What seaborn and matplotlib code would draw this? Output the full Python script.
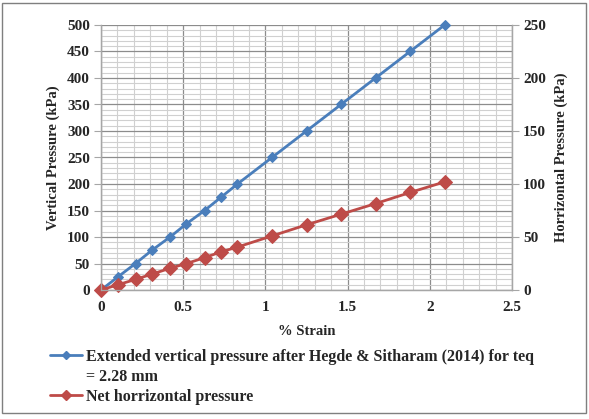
import numpy as np
import pandas as pd
import matplotlib
matplotlib.use("Agg")
import matplotlib.pyplot as plt
import seaborn as sns
from matplotlib.patches import Rectangle
from matplotlib.lines import Line2D

sns.set_style("white")
plt.rcParams['font.family'] = ['Liberation Serif', 'DejaVu Serif']
plt.rcParams['font.weight'] = 'bold'

# data
strain = [0, 0.104, 0.21, 0.31, 0.42, 0.52, 0.63, 0.73, 0.83, 1.04, 1.25, 1.46, 1.67, 1.88, 2.09]
vertical = [0, 25, 50, 75, 100, 125, 150, 175, 200, 250, 300, 350, 400, 450, 500]
horizontal = [0, 5, 10, 15, 20.5, 25, 30.5, 36, 40.5, 51, 61.5, 71.5, 81.5, 92, 102]

blue = '#4A7EBB'
red = '#BE4B48'
grid_c = '#A6A6A6'

df = pd.DataFrame({'strain': strain, 'vertical': vertical, 'horizontal': horizontal})

fig = plt.figure(figsize=(5.89, 4.19), dpi=100)
ax = fig.add_axes([101/589, 1-290/419, 411/589, 265/419])
ax2 = ax.twinx()

# grid first
ax.set_xlim(0, 2.5)
ax.set_ylim(0, 500)
ax.set_xticks(np.arange(0, 2.51, 0.5))
ax.set_xticks(np.arange(0, 2.51, 0.1), minor=True)
ax.set_yticks(np.arange(0, 501, 50))
ax.set_yticks(np.arange(0, 501, 10), minor=True)
ax.grid(which='major', color='#8C8C8C', lw=0.9)
ax.grid(which='minor', color='#D0D0D0', lw=0.8)
ax.set_axisbelow(True)

sns.lineplot(data=df, x='strain', y='vertical', ax=ax, color=blue, lw=2,
             marker='D', markersize=5, markeredgecolor=blue, legend=False, clip_on=False)
sns.lineplot(data=df, x='strain', y='horizontal', ax=ax2, color=red, lw=2,
             marker='D', markersize=7, markeredgecolor=red, legend=False, clip_on=False)
ax2.set_ylim(0, 250)
ax2.set_yticks(np.arange(0, 251, 50))
ax.set_zorder(ax2.get_zorder() - 1)
ax2.patch.set_visible(False)

for a in (ax, ax2):
    for s in a.spines.values():
        s.set_color(grid_c)
        s.set_linewidth(0.9)
    a.spines['top'].set_visible(False)
    a.tick_params(which='major', length=5, color=grid_c, labelsize=11, pad=3)
    a.tick_params(which='minor', length=0)
    for lab in a.get_xticklabels() + a.get_yticklabels():
        lab.set_fontweight('bold')

ax.set_xticklabels(['0', '0.5', '1', '1.5', '2', '2.5'])
ax.set_xlabel('% Strain', fontsize=10.5, fontweight='bold', labelpad=8)
ax.set_ylabel('Vertical Pressure (kPa)', fontsize=10.5, fontweight='bold', labelpad=5)
ax2.set_ylabel('Horrizontal Pressure (kPa)', fontsize=10.5, fontweight='bold', labelpad=6)

handles = [Line2D([], [], color=blue, lw=2, marker='D', markersize=4),
           Line2D([], [], color='none'),
           Line2D([], [], color=red, lw=2, marker='D', markersize=5)]
labels = ['Extended vertical pressure after Hegde & Sitharam (2014) for teq',
          '= 2.28 mm',
          'Net horrizontal pressure']
fig.legend(handles, labels, loc='upper left', bbox_to_anchor=(50/589, 1-349/419),
           frameon=False, prop={'weight': 'bold', 'size': 11.5}, handlelength=2.0,
           handletextpad=0.25, labelspacing=0.25, borderaxespad=0, borderpad=0)

fig.patches.append(Rectangle((2/589, 1-413/419), 584/589, 410/419, transform=fig.transFigure,
                             fill=False, edgecolor='#7F7F7F', lw=1))

fig.savefig('out.png', dpi=100)
